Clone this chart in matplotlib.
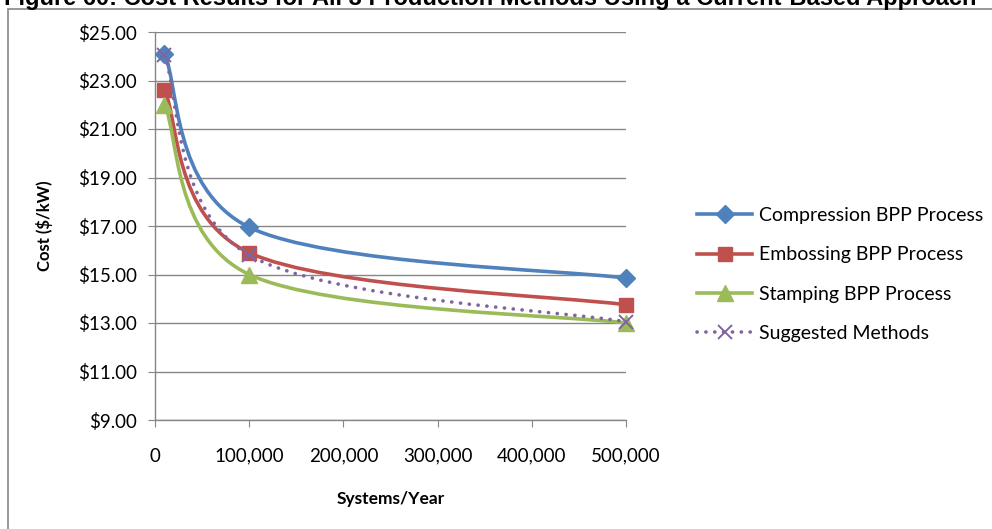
import numpy as np
import matplotlib.pyplot as plt
from matplotlib.path import Path
from matplotlib.patches import PathPatch, Rectangle
from matplotlib.lines import Line2D
from matplotlib.ticker import FuncFormatter, MultipleLocator

# values
systems = [10000, 100000, 500000]
compression = [24.1, 16.95, 14.85]
embossing = [22.6, 15.9, 13.75]
stamping = [22.0, 15.0, 13.0]
suggested = [24.05, 15.8, 13.05]
labels = ['Compression BPP Process', 'Embossing BPP Process',
          'Stamping BPP Process', 'Suggested Methods']
y_ticks = [9, 11, 13, 15, 17, 19, 21, 23, 25]

title = 'Figure 60: Cost Results for All 3 Production Methods Using a Current-Based Approach'

BLUE = '#4F81BD'
RED = '#C0504D'
GREEN = '#9BBB59'
PURPLE = '#8064A2'
GRAY = '#868686'
FONT = 'Lato'


def smooth_path(xs, ys):
    # Excel-style smoothed line: cubic bezier through the points
    pts = np.column_stack([xs, ys]).astype(float)
    n = len(pts)
    verts = [pts[0]]
    codes = [Path.MOVETO]
    for i in range(n - 1):
        p0 = pts[max(i - 1, 0)]
        p1 = pts[i]
        p2 = pts[i + 1]
        p3 = pts[min(i + 2, n - 1)]
        verts += [p1 + (p2 - p0) / 6, p2 - (p3 - p1) / 6, p2]
        codes += [Path.CURVE4] * 3
    return Path(verts, codes)


fig = plt.figure(figsize=(9.92, 5.29), dpi=100)
ax = fig.add_axes([155 / 992, 1 - 420 / 529, (626 - 155) / 992, (420 - 32) / 529])

series = [
    (compression, BLUE, 'D', 9),
    (embossing, RED, 's', 10),
    (stamping, GREEN, '^', 11),
]
for vals, col, mk, ms in series:
    ax.add_patch(PathPatch(smooth_path(systems, vals), facecolor='none',
                           edgecolor=col, lw=2.6, capstyle='round', zorder=3))
    ax.plot(systems, vals, linestyle='none', marker=mk, ms=ms, color=col,
            zorder=4, clip_on=False)

ax.add_patch(PathPatch(smooth_path(systems, suggested), facecolor='none',
                       edgecolor=PURPLE, lw=2.6, linestyle=(0, (0.05, 2.4)),
                       capstyle='round', zorder=5))
ax.plot(systems, suggested, linestyle='none', marker='x', ms=10, mew=1.4,
        color=PURPLE, zorder=6, clip_on=False)

ax.set_xlim(0, 500000)
ax.set_ylim(9, 25)
ax.set_yticks(y_ticks)
ax.xaxis.set_major_locator(MultipleLocator(100000))
ax.yaxis.set_major_formatter(FuncFormatter(lambda v, p: f'${v:.2f}'))
ax.xaxis.set_major_formatter(FuncFormatter(lambda v, p: f'{int(v):,}'))

ax.grid(axis='y', color=GRAY, lw=1)
ax.set_axisbelow(True)
for s in ['top', 'right']:
    ax.spines[s].set_visible(False)
for s in ['left', 'bottom']:
    ax.spines[s].set_color(GRAY)
    ax.spines[s].set_linewidth(1)
ax.tick_params(axis='both', direction='out', length=5, color=GRAY,
               labelsize=13.5, labelcolor='black')
ax.tick_params(axis='x', pad=15)
ax.tick_params(axis='y', pad=8)
for t in ax.get_xticklabels() + ax.get_yticklabels():
    t.set_fontfamily(FONT)

ax.set_ylabel('Cost ($/kW)', fontsize=12, fontweight='bold', family=FONT, labelpad=18)
ax.set_xlabel('Systems/Year', fontsize=12.5, fontweight='bold', family=FONT, labelpad=19)

handles = [
    Line2D([], [], color=BLUE, lw=2.6, marker='D', ms=9),
    Line2D([], [], color=RED, lw=2.6, marker='s', ms=10),
    Line2D([], [], color=GREEN, lw=2.6, marker='^', ms=11),
    Line2D([], [], color=PURPLE, lw=2.6, linestyle=(0, (0.05, 2.4)),
           dash_capstyle='round', marker='x', ms=10, mew=1.4),
]
fig.legend(handles, labels, loc='upper left', bbox_to_anchor=(697 / 992, 1 - 207 / 529),
           frameon=False, prop={'family': FONT, 'size': 14},
           handlelength=2.85, handletextpad=0.35, labelspacing=1.15, borderpad=0,
           borderaxespad=0)

# outer chart border (right/bottom edges fall outside the picture)
fig.add_artist(Rectangle((8 / 992, -0.1), 1.2, 1 - 9 / 529 + 0.1,
                         transform=fig.transFigure, fill=False,
                         edgecolor=GRAY, lw=1.2))

fig.text(4 / 992, 1 - 5.5 / 529, title, family='Liberation Sans',
         fontweight='bold', fontsize=17, va='baseline', ha='left')

fig.savefig('out.png', dpi=100)
